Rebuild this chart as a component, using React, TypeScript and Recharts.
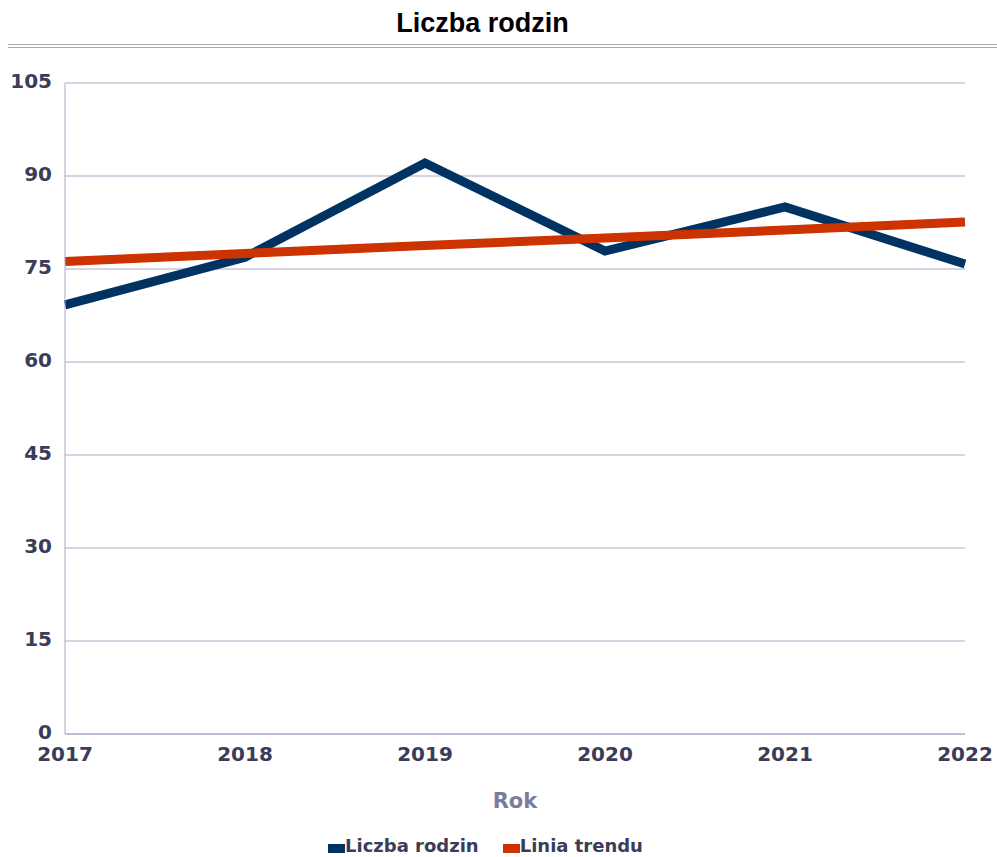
import React from 'react';
import { LineChart, Line, XAxis, YAxis, CartesianGrid, Legend } from 'recharts';

const years = ['2017', '2018', '2019', '2020', '2021', '2022'];
const families = [69.2, 76.9, 92.1, 77.9, 85.0, 75.8];
const trend = [76.2, 77.5, 78.8, 80.0, 81.3, 82.6];
const yTicks = [0, 15, 30, 45, 60, 75, 90, 105];

const data = years.map((year, i) => ({ year, families: families[i], trend: trend[i] }));

const FONT = '"Liberation Sans", Arial, sans-serif';
const HEAVY = '"DejaVu Sans", Verdana, sans-serif';
const GRID = '#a9a9c6';

// the picture is cut to the body box, so drop the default margin
if (typeof document !== 'undefined') document.body.style.margin = '0';

const renderLegend = () => (
  <div style={{ display: 'flex', justifyContent: 'flex-start', paddingLeft: 328, fontFamily: HEAVY, fontWeight: 'bold', fontSize: 18, color: '#3c3c58', lineHeight: '22px' }}>
    {[
      { label: 'Liczba rodzin', color: '#003262' },
      { label: 'Linia trendu', color: '#cc3300' },
    ].map((item, i) => (
      <div key={i} style={{ display: 'flex', alignItems: 'flex-end', marginRight: i === 0 ? 24 : 0 }}>
        <span style={{ display: 'inline-block', width: 17, height: 9, background: item.color, marginBottom: 4 }} />
        <span>{item.label}</span>
      </div>
    ))}
  </div>
);

const App = () => {
  return (
    <div style={{ position: 'relative', width: 997, height: 857, overflow: 'hidden' }}>
      <div style={{ position: 'absolute', top: 8, left: 297, width: 371, textAlign: 'center', fontFamily: FONT, fontWeight: 'bold', fontSize: 27, color: '#000' }}>
        Liczba rodzin
      </div>
      <div style={{ position: 'absolute', top: 44, left: 8, width: 989, borderTop: '1px solid #a6a6b4', borderBottom: '1px solid #a6a6b4', height: 2 }} />
      <LineChart width={997} height={857} data={data} margin={{ top: 83, right: 32, left: 0, bottom: 21 }}>
        <CartesianGrid vertical={false} stroke={GRID} strokeWidth={1.2} />
        <XAxis
          dataKey="year"
          height={80}
          stroke={GRID}
          tickLine={false}
          tickSize={0}
          tickMargin={13}
          tick={{ fill: '#3c3c58', fontSize: 20, fontWeight: 'bold', fontFamily: HEAVY }}
          label={{ value: 'Rok', position: 'insideBottom', offset: 6, fill: '#7b7b9c', fontSize: 21, fontWeight: 'bold', fontFamily: HEAVY }}
        />
        <YAxis
          domain={[0, 105]}
          ticks={yTicks}
          width={65}
          stroke={GRID}
          tickLine={false}
          tickSize={0}
          tickMargin={13}
          tick={{ fill: '#3c3c58', fontSize: 20, fontWeight: 'bold', fontFamily: HEAVY, dy: -2 }}
        />
        <Legend verticalAlign="bottom" content={renderLegend} wrapperStyle={{ bottom: 0 }} />
        <Line type="linear" dataKey="families" name="Liczba rodzin" stroke="#003262" strokeWidth={9} dot={false} isAnimationActive={false} />
        <Line type="linear" dataKey="trend" name="Linia trendu" stroke="#cc3300" strokeWidth={9} dot={false} isAnimationActive={false} />
      </LineChart>
    </div>
  );
};

export default App;
